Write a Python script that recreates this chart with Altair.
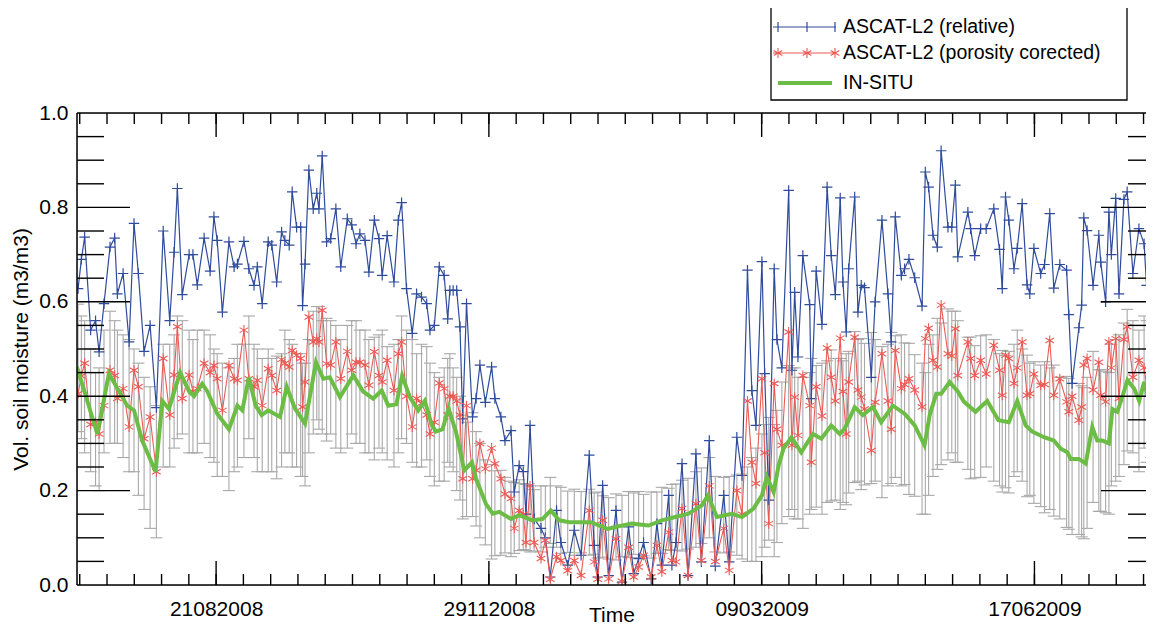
import altair as alt
import numpy as np
import pandas as pd

# ---------------- data ----------------
START = pd.Timestamp("2008-07-01")

# ASCAT observation times, days after 1 July 2008
obs_day = [
    0.4, 1.6, 2.8, 5.0, 6.8, 8.1, 9.9, 12.1, 13.8, 14.8,
    16.9, 19.1, 20.9, 22.5, 24.6, 26.8, 29.1, 31.6, 34.0, 35.6,
    36.8, 38.6, 41.1, 42.5, 44.1, 46.6, 48.8, 50.2, 51.4, 53.3,
    55.7, 57.6, 58.8, 61.2, 63.0, 64.9, 66.1, 67.9, 70.1, 71.4,
    73.2, 75.0, 76.2, 77.8, 78.9, 80.5, 82.0, 82.7, 83.6, 85.0,
    86.6, 87.9, 88.7, 89.9, 91.5, 93.0, 94.9, 96.7, 99.1, 100.7,
    102.3, 103.7, 105.6, 107.0, 109.0, 110.7, 111.9, 113.7, 116.2, 117.8,
    119.0, 120.8, 122.9, 124.5, 126.3, 128.2, 129.4, 131.0, 132.8, 134.6,
    135.9, 136.7, 137.9, 139.2, 140.4, 141.4, 142.8, 145.0, 146.3, 147.7,
    149.7, 152.0, 153.2, 155.4, 156.9, 159.1, 160.3, 162.1, 163.6, 164.6,
    166.1, 167.6, 170.1, 171.7, 173.5, 175.8, 177.4, 179.9, 182.3, 184.8,
    187.8, 189.6, 190.9, 192.7, 194.9, 197.6, 199.8, 202.2, 204.1, 205.9,
    207.7, 210.5, 212.6, 214.4, 216.9, 218.1, 219.6, 221.8, 224.0, 226.9,
    228.9, 231.8, 234.0, 237.1, 239.1, 241.9, 243.8, 245.8, 247.4, 248.9,
    251.1, 252.1, 253.6, 255.6, 256.6, 258.4, 260.9, 262.1, 263.1, 264.3,
    266.1, 268.6, 269.2, 271.0, 273.1, 275.0, 276.5, 278.0, 279.8, 280.8,
    282.0, 282.9, 285.1, 286.3, 287.5, 288.7, 291.2, 292.6, 295.1, 297.3,
    298.5, 300.0, 302.2, 303.4, 305.0, 307.1, 309.8, 311.0, 312.2, 313.8,
    315.4, 316.8, 319.3, 320.7, 322.0, 322.9, 326.6, 327.6, 329.1, 331.3,
    333.3, 336.1, 338.2, 339.2, 340.4, 341.6, 343.5, 344.7, 346.5, 348.3,
    349.3, 350.8, 353.3, 354.7, 356.6, 358.1, 360.3, 362.8, 363.6, 364.8,
    367.3, 368.3, 369.1, 370.3, 372.5, 374.6, 375.3, 377.1, 378.3, 379.2,
    380.8, 382.0, 383.8, 385.0, 387.1, 389.3, 391.2, 392.1, 393.8,
]

ascat_relative = [
    .628, .69, .737, .54, .56, .494, .596, .716, .735, .617,
    .66, .515, .766, .66, .495, .55, .376, .75, .56, .705,
    .84, .615, .70, .70, .636, .735, .665, .78, .73, .578,
    .727, .674, .68, .728, .67, .635, .674, .596, .727, .72,
    .642, .748, .73, .72, .833, .758, .758, .592, .68, .879,
    .797, .83, .797, .909, .727, .734, .797, .674, .776, .763,
    .723, .744, .73, .663, .773, .734, .656, .74, .642, .773,
    .81, .628, .533, .617, .61, .596, .54, .55, .674, .656,
    .564, .624, .624, .624, .547, .352, .596, .356, .395, .466,
    .387, .462, .395, .356, .306, .327, .197, .253, .24, .15,
    .338, .14, .12, .10, .017, .158, .09, .042, .116, .063,
    .275, .084, .017, .211, .02, .158, .006, .123, .024, .056,
    .09, .013, .13, .042, .19, .042, .09, .257, .02, .278,
    .049, .306, .04, .19, .049, .313, .232, .667, .412, .338,
    .685, .448, .18, .67, .52, .46, .836, .455, .62, .483,
    .698, .594, .395, .665, .552, .843, .698, .615, .82, .642,
    .536, .67, .822, .578, .635, .63, .44, .60, .773, .617,
    .515, .78, .656, .67, .69, .651, .591, .875, .843, .741,
    .716, .92, .758, .758, .847, .695, .79, .755, .698, .755,
    .755, .797, .711, .628, .822, .773, .67, .713, .808, .636,
    .617, .713, .66, .679, .787, .629, .679, .667, .573, .427,
    .545, .593, .778, .751, .635, .741, .684, .60, .79, .70,
    .819, .617, .817, .833, .66, .755, .723, .635, .79,
]

ascat_porosity = [
    .405, .443, .47, .34, .345, .32, .38, .455, .444, .395,
    .416, .335, .455, .42, .31, .356, .24, .48, .36, .445,
    .547, .395, .445, .41, .416, .47, .45, .465, .437, .37,
    .465, .437, .434, .54, .437, .42, .434, .38, .458, .444,
    .412, .478, .47, .462, .497, .487, .48, .377, .43, .568,
    .515, .522, .515, .582, .469, .466, .515, .437, .495, .455,
    .472, .472, .466, .423, .494, .444, .43, .476, .412, .49,
    .515, .40, .335, .395, .385, .36, .32, .345, .428, .416,
    .36, .40, .40, .39, .36, .225, .38, .225, .243, .30,
    .246, .29, .257, .225, .193, .183, .12, .158, .15, .09,
    .21, .09, .056, .095, .012, .06, .052, .03, .052, .02,
    .158, .049, .012, .137, .013, .098, .008, .08, .017, .038,
    .063, .017, .084, .028, .112, .052, .049, .162, .02, .172,
    .052, .21, .05, .12, .031, .20, .15, .39, .26, .215,
    .437, .28, .13, .427, .33, .296, .536, .296, .398, .317,
    .444, .38, .26, .42, .358, .502, .44, .39, .523, .41,
    .32, .43, .525, .413, .398, .373, .285, .387, .49, .39,
    .33, .497, .416, .425, .437, .413, .377, .522, .544, .476,
    .462, .593, .49, .485, .543, .444, .515, .48, .444, .476,
    .447, .508, .455, .402, .487, .48, .427, .46, .515, .402,
    .405, .447, .423, .425, .518, .402, .437, .388, .367, .40,
    .349, .377, .466, .48, .413, .472, .402, .388, .515, .46,
    .522, .395, .52, .547, .44, .476, .46, .423, .518,
]

# in-situ mean and spread at each ASCAT time (grey error bars)
insitu_at_obs = [
    .46, .44, .42, .37, .33, .33, .41, .44, .43, .42,
    .40, .38, .37, .33, .30, .27, .24, .38, .38, .41,
    .44, .44, .41, .40, .41, .42, .40, .38, .36, .35,
    .33, .36, .38, .39, .44, .39, .37, .36, .37, .36,
    .355, .37, .41, .40, .38, .37, .36, .35, .34, .40,
    .45, .47, .46, .44, .435, .44, .42, .40, .42, .44,
    .43, .42, .41, .40, .395, .41, .41, .385, .38, .40,
    .44, .42, .39, .37, .38, .385, .35, .33, .33, .34,
    .37, .37, .35, .32, .29, .25, .245, .255, .225, .20,
    .175, .155, .152, .153, .148, .14, .142, .148, .145, .143,
    .14, .137, .14, .145, .158, .145, .137, .134, .133, .133,
    .133, .13, .127, .124, .12, .123, .125, .128, .13, .128,
    .127, .127, .132, .137, .14, .143, .144, .147, .151, .16,
    .168, .185, .15, .148, .15, .148, .145, .15, .16, .17,
    .19, .21, .225, .20, .23, .28, .305, .31, .30, .29,
    .28, .30, .32, .315, .31, .325, .338, .33, .32, .325,
    .33, .345, .377, .37, .362, .362, .375, .37, .345, .36,
    .375, .378, .37, .363, .352, .338, .31, .30, .35, .38,
    .405, .405, .425, .43, .42, .41, .385, .375, .367, .378,
    .39, .37, .35, .347, .346, .345, .37, .39, .36, .337,
    .33, .323, .316, .313, .31, .306, .29, .282, .278, .267,
    .267, .262, .258, .28, .335, .306, .306, .303, .30, .36,
    .37, .38, .405, .434, .42, .39, .43, .41, .41,
]

insitu_sd = [
    .135, .13, .14, .13, .12, .13, .13, .14, .13, .12,
    .13, .14, .13, .14, .14, .15, .14, .13, .13, .12,
    .13, .12, .13, .12, .13, .12, .13, .12, .13, .12,
    .13, .12, .13, .12, .13, .12, .13, .12, .13, .12,
    .13, .12, .13, .12, .13, .12, .13, .12, .13, .12,
    .13, .12, .13, .12, .13, .12, .13, .12, .13, .12,
    .13, .12, .13, .12, .13, .12, .13, .12, .13, .12,
    .13, .12, .13, .12, .13, .12, .12, .12, .11, .12,
    .11, .12, .11, .12, .11, .11, .10, .11, .10, .10,
    .09, .10, .09, .09, .08, .08, .075, .075, .07, .07,
    .07, .065, .07, .065, .07, .065, .07, .065, .07, .065,
    .07, .065, .07, .065, .065, .07, .065, .07, .065, .07,
    .065, .07, .065, .07, .065, .07, .07, .075, .075, .08,
    .08, .085, .08, .08, .08, .085, .09, .10, .11, .12,
    .13, .13, .13, .14, .14, .15, .16, .15, .16, .15,
    .16, .15, .16, .15, .16, .15, .16, .15, .16, .15,
    .16, .15, .16, .15, .16, .15, .16, .15, .16, .15,
    .16, .15, .16, .15, .16, .15, .16, .15, .16, .15,
    .16, .15, .16, .15, .16, .15, .14, .15, .14, .15,
    .14, .15, .14, .15, .14, .15, .14, .15, .14, .15,
    .14, .15, .15, .16, .15, .16, .15, .16, .16, .16,
    .16, .16, .16, .16, .16, .15, .15, .15, .15, .15,
    .15, .15, .15, .15, .14, .15, .14, .15, .14,
]

# daily in-situ curve (green)
insitu_day = [
    0, 7.45, 11.7, 18.4, 20.9, 23.9, 28.8, 31.3, 33.7, 37.8,
    41.1, 42.9, 45.9, 47.8, 51.4, 55.7, 58.8, 60.6, 63.0, 65.5,
    67.7, 70.1, 74.4, 76.9, 79.9, 83.6, 87.6, 90.3, 92.7, 96.4,
    101.3, 104.9, 108.6, 111.7, 114.1, 117.1, 119.2, 122.0, 125.1, 127.5,
    130.0, 131.6, 134.0, 136.2, 138.9, 142.0, 144.8, 146.3, 149.9, 152.4,
    154.8, 159.1, 162.1, 167.0, 170.7, 173.7, 176.8, 180.5, 184.2, 188.4,
    191.5, 194.5, 197.3, 203.4, 209.5, 214.4, 219.3, 224.2, 229.1, 231.3,
    234.6, 240.1, 243.8, 248.0, 251.1, 252.9, 255.4, 257.2, 259.0, 261.9,
    265.5, 269.8, 272.9, 276.5, 279.6, 281.4, 285.1, 288.1, 291.8, 294.8,
    299.1, 303.4, 307.1, 310.7, 312.6, 315.0, 316.8, 319.9, 322.9, 325.2,
    329.4, 333.7, 337.8, 341.6, 344.7, 347.8, 350.2, 354.5, 358.1, 360.6,
    363.1, 364.3, 367.3, 369.8, 372.2, 374.0, 375.9, 378.3, 379.6, 381.4,
    383.3, 385.1, 387.6, 389.4, 391.2, 392.5, 394.0,
]
insitu_value = [
    0.462, 0.32, 0.448, 0.38, 0.37, 0.306, 0.24, 0.39, 0.373, 0.45,
    0.41, 0.40, 0.426, 0.41, 0.363, 0.33, 0.38, 0.37, 0.44, 0.38,
    0.36, 0.37, 0.356, 0.42, 0.374, 0.342, 0.472, 0.437, 0.44, 0.398,
    0.444, 0.41, 0.395, 0.412, 0.38, 0.383, 0.444, 0.398, 0.37, 0.39,
    0.34, 0.325, 0.33, 0.374, 0.325, 0.243, 0.26, 0.225, 0.172, 0.151,
    0.155, 0.14, 0.148, 0.137, 0.14, 0.158, 0.137, 0.133, 0.133, 0.133,
    0.126, 0.119, 0.123, 0.13, 0.126, 0.137, 0.144, 0.151, 0.169, 0.19,
    0.144, 0.151, 0.144, 0.162, 0.19, 0.229, 0.197, 0.253, 0.289, 0.313,
    0.281, 0.32, 0.31, 0.338, 0.32, 0.331, 0.377, 0.36, 0.377, 0.345,
    0.38, 0.363, 0.338, 0.296, 0.36, 0.405, 0.405, 0.43, 0.41, 0.388,
    0.367, 0.39, 0.349, 0.345, 0.39, 0.338, 0.325, 0.313, 0.306, 0.289,
    0.281, 0.267, 0.267, 0.257, 0.335, 0.306, 0.306, 0.30, 0.373, 0.367,
    0.40, 0.434, 0.416, 0.39, 0.43, 0.40, 0.41,
]

tick_labels = ["21082008", "29112008", "09032009", "17062009"]
y_labels = [0.0, 0.2, 0.4, 0.6, 0.8, 1.0]
y_major_ticks = [0.2, 0.4, 0.6, 0.8]
y_minor_ticks = [0.05, 0.1, 0.15, 0.25, 0.3, 0.35, 0.45, 0.5, 0.55,
                 0.65, 0.7, 0.75, 0.85, 0.9, 0.95]
x_minor_tick_days = list(range(1, 392, 10))
legend_labels = ["ASCAT-L2 (relative)", "ASCAT-L2 (porosity corected)", "IN-SITU"]

# ---------------- tables ----------------
n = min(len(obs_day), len(ascat_relative), len(ascat_porosity),
        len(insitu_at_obs), len(insitu_sd))
center = np.array(insitu_at_obs[:n])
sd = np.array(insitu_sd[:n])
obs = pd.DataFrame({
    "date": START + pd.to_timedelta(np.array(obs_day[:n]), unit="D"),
    "rel": ascat_relative[:n],
    "por": ascat_porosity[:n],
    "lo": np.clip(center - sd, 0, 1),
    "hi": np.clip(center + sd, 0, 1),
})
m = min(len(insitu_day), len(insitu_value))
insitu = pd.DataFrame({
    "date": START + pd.to_timedelta(np.array(insitu_day[:m]), unit="D"),
    "v": insitu_value[:m],
})
major_dates = pd.to_datetime(tick_labels, format="%d%m%Y")
xmaj = pd.DataFrame({"date": major_dates})
xmin = pd.DataFrame({"date": START + pd.to_timedelta(x_minor_tick_days, unit="D")})
ymaj = pd.DataFrame({"v": y_major_ticks})
ymin = pd.DataFrame({"v": y_minor_ticks})
one = pd.DataFrame({"k": [0]})

# ---------------- styling ----------------
W, H = 1069, 472          # plot area; the right frame lies just off the picture
FONT = "Liberation Sans"
BLUE = "#2f4b9c"
RED = "#ec5a55"
GREEN = "#6cbd45"
GRAY = "#a8a8a8"
PLUS = "M-1,0H1M0,-1V1"
STAR = "M0,-1V1M-0.866,-0.5L0.866,0.5M-0.866,0.5L0.866,-0.5"

xscale = alt.Scale(domain=[alt.DateTime(year=2008, month=7, date=1),
                           alt.DateTime(year=2009, month=7, date=27,
                                        hours=21, minutes=36)])
yscale = alt.Scale(domain=[0, 1], nice=False, zero=False)
xaxis = alt.Axis(
    values=[alt.DateTime(year=int(s[4:]), month=int(s[2:4]), date=int(s[:2]))
            for s in tick_labels],
    format="%d%m%Y", ticks=False, tickSize=0, domain=False, grid=False,
    labelFont=FONT, labelFontSize=21, labelColor="black", labelPadding=13,
    labelFlush=False, labelOverlap=False,
    titleFont=FONT, titleFontSize=21, titleFontWeight="normal",
    titleColor="black", titleY=36, titleBaseline="alphabetic",
)
yaxis = alt.Axis(
    values=y_labels, format=".1f", ticks=False, tickSize=0, domain=False,
    grid=False, labelFont=FONT, labelFontSize=21, labelColor="black",
    labelPadding=9, labelFlush=False, labelOverlap=False,
    titleFont=FONT, titleFontSize=21, titleFontWeight="normal",
    titleColor="black", titlePadding=7,
)
YT = "Vol. soil moisture (m3/m3)"
X = alt.X("date:T", scale=xscale, axis=xaxis, title="Time")


def Y(field):
    return alt.Y(f"{field}:Q", scale=yscale, axis=yaxis, title=YT)


layers = []
# grey error bars
layers.append(alt.Chart(obs).mark_rule(color=GRAY, strokeWidth=1.1, opacity=1, clip=True)
              .encode(x=X, y=Y("lo"), y2="hi"))
for f in ["lo", "hi"]:
    layers.append(alt.Chart(obs).mark_tick(color=GRAY, orient="horizontal", clip=True,
                                           size=12, thickness=1.1, opacity=1)
                  .encode(x=X, y=Y(f)))
# ASCAT relative (blue)
layers.append(alt.Chart(obs).mark_line(color=BLUE, strokeWidth=1.2, clip=True)
              .encode(x=X, y=Y("rel")))
layers.append(alt.Chart(obs).mark_point(shape=PLUS, size=110, filled=False, clip=True,
                                        color=BLUE, strokeWidth=1.2, opacity=1)
              .encode(x=X, y=Y("rel")))
# ASCAT porosity corrected (red)
layers.append(alt.Chart(obs).mark_line(color=RED, strokeWidth=1.1, clip=True)
              .encode(x=X, y=Y("por")))
layers.append(alt.Chart(obs).mark_point(shape=STAR, size=100, filled=False, clip=True,
                                        color=RED, strokeWidth=1.1, opacity=1)
              .encode(x=X, y=Y("por")))
# in situ (green)
layers.append(alt.Chart(insitu).mark_line(color=GREEN, strokeWidth=4, clip=True)
              .encode(x=X, y=Y("v")))

# frame (left, top, bottom)
FR = dict(color="black", strokeWidth=1.5)
layers.append(alt.Chart(one).mark_rule(**FR)
              .encode(x=alt.value(0), y=alt.value(0), y2=alt.value(H)))
layers.append(alt.Chart(one).mark_rule(**FR)
              .encode(x=alt.value(0), x2=alt.value(W), y=alt.value(0)))
layers.append(alt.Chart(one).mark_rule(**FR)
              .encode(x=alt.value(0), x2=alt.value(W), y=alt.value(H)))

# inward tick marks
TK = dict(color="black", strokeWidth=1.4)
for df, ln in [(xmin, 11), (xmaj, 24)]:
    layers.append(alt.Chart(df).mark_rule(**TK)
                  .encode(x=X, y=alt.value(0), y2=alt.value(ln)))
    layers.append(alt.Chart(df).mark_rule(**TK)
                  .encode(x=X, y=alt.value(H), y2=alt.value(H - ln)))
for df, ln, rn in [(ymin, 27, 18), (ymaj, 53, 45)]:
    layers.append(alt.Chart(df).mark_rule(**TK)
                  .encode(y=Y("v"), x=alt.value(0), x2=alt.value(ln)))
    layers.append(alt.Chart(df).mark_rule(**TK)
                  .encode(y=Y("v"), x=alt.value(W), x2=alt.value(W - rn)))

# legend box (above the plot area)
LX0, LX1, LY0, LY1 = 694, 1050, -106, -13
layers.append(alt.Chart(one).mark_rect(fill="white", stroke="black", strokeWidth=1.3)
              .encode(x=alt.value(LX0), x2=alt.value(LX1),
                      y=alt.value(LY0), y2=alt.value(LY1)))
rows = [-86, -60, -30]
leg_plus = "M-3.15,0H3.15M-2.65,-0.5V0.5M0.25,-0.5V0.5M3.05,-0.5V0.5"
star_parts = []
for cx in [-2.65, 0.25, 3.05]:
    star_parts.append(f"M{cx},-0.5V0.5M{cx-0.433:.3f},-0.25L{cx+0.433:.3f},0.25"
                      f"M{cx-0.433:.3f},0.25L{cx+0.433:.3f},-0.25")
leg_star = "M-3.15,0H3.15" + "".join(star_parts)
layers.append(alt.Chart(one).mark_point(shape=leg_plus, size=400, filled=False,
                                        color=BLUE, strokeWidth=1.2, opacity=1)
              .encode(x=alt.value(727.5), y=alt.value(rows[0])))
layers.append(alt.Chart(one).mark_point(shape=leg_star, size=400, filled=False,
                                        color=RED, strokeWidth=1.1, opacity=1)
              .encode(x=alt.value(727.5), y=alt.value(rows[1])))
layers.append(alt.Chart(one).mark_rule(color=GREEN, strokeWidth=4)
              .encode(x=alt.value(701), x2=alt.value(755), y=alt.value(rows[2])))
for lab, ry in zip(legend_labels, rows):
    layers.append(alt.Chart(one).mark_text(text=lab, align="left", baseline="middle",
                                           font=FONT, fontSize=19.5, color="black")
                  .encode(x=alt.value(766), y=alt.value(ry)))

chart = (
    alt.layer(*layers)
    .properties(width=W, height=H,
                padding={"left": 69, "top": 105, "right": 0, "bottom": 42},
                autosize=alt.AutoSizeParams(type="none"))
    .configure_view(stroke="transparent", strokeWidth=0)
    .configure(background="white")
)

chart.save("out.html", embed_options={"renderer": "svg", "actions": False})
